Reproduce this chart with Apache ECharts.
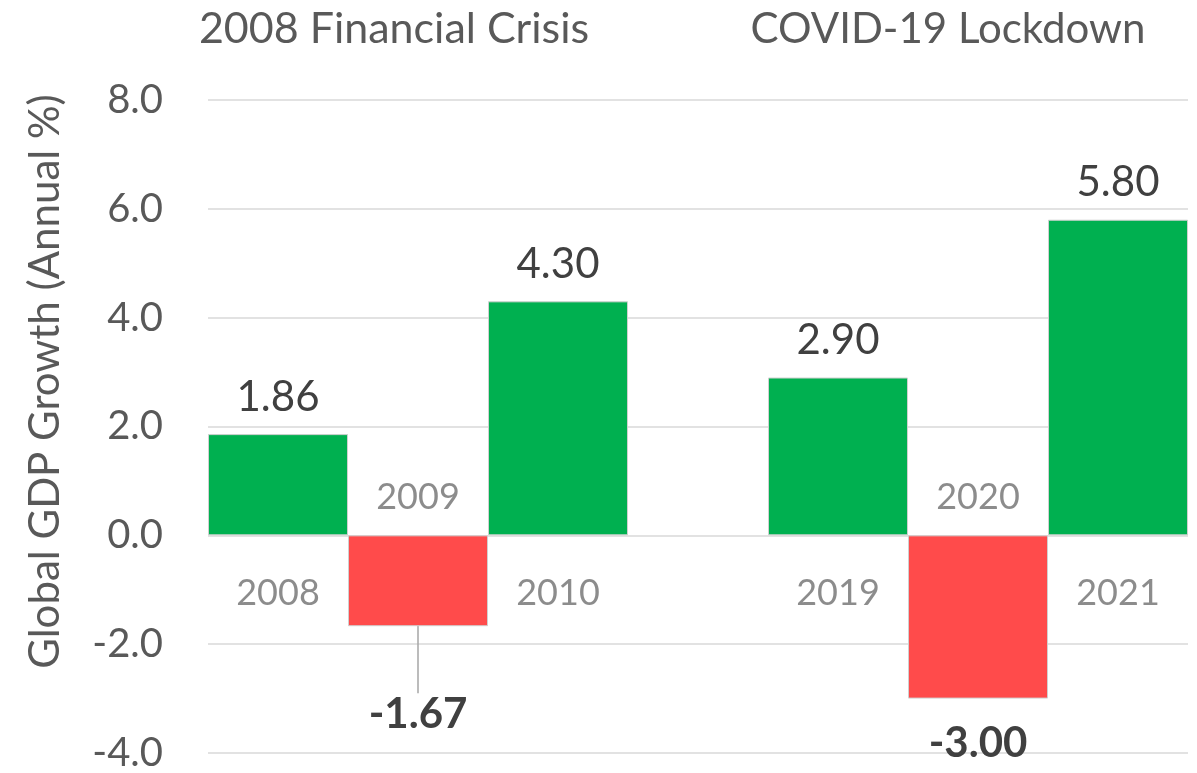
<!DOCTYPE html>
<html>
<head>
<meta charset="utf-8">
<script src="https://cdn.jsdelivr.net/npm/echarts@6/dist/echarts.min.js"></script>
<style>html,body{margin:0;padding:0;background:#fff;}#c{width:1197px;height:773px;}</style>
</head>
<body>
<div id="c"></div>
<script>
const categories = ['2008', '2009', '2010', '', '2019', '2020', '2021'];
const growth = [1.86, -1.67, 4.30, null, 2.90, -3.00, 5.80];
const yTicks = [-4, -2, 0, 2, 4, 6, 8];
const periodTitles = ['2008 Financial Crisis', 'COVID-19 Lockdown'];

const FONT = 'Lato';
const GREEN = '#00B050';
const RED = '#FF4B4B';

const chart = echarts.init(document.getElementById('c'), null, {renderer: 'canvas'});

const barData = growth.map((v, i) => {
  if (v === null) return null;
  const neg = v < 0;
  return {
    value: v,
    itemStyle: {color: neg ? RED : GREEN},
    label: neg ? {position: 'bottom', fontWeight: 'bold', distance: i === 1 ? 5 : 24} : {position: 'top', distance: 16},
    labelLine: {show: i === 1}
  };
});

const catLabelData = growth.map((v, i) => {
  if (v === null) return null;
  const neg = v < 0;
  return {
    value: [i, 0],
    label: neg ? {position: 'top', distance: 20} : {position: 'bottom', distance: 40}
  };
});

chart.setOption({
  animation: false,
  title: [
    {text: periodTitles[0], left: 389, top: 3, textAlign: 'center',
     textStyle: {fontFamily: FONT, fontSize: 43, fontWeight: 'normal', color: '#595959'}},
    {text: periodTitles[1], left: 943, top: 3, textAlign: 'center',
     textStyle: {fontFamily: FONT, fontSize: 42, fontWeight: 'normal', color: '#595959'}}
  ],
  grid: {left: 208, right: 9, top: 100, bottom: 15, containLabel: false},
  xAxis: {
    type: 'category',
    data: categories,
    axisLine: {show: false},
    axisTick: {show: false},
    axisLabel: {show: false},
    splitLine: {show: false}
  },
  yAxis: {
    type: 'value',
    min: yTicks[0],
    max: yTicks[yTicks.length - 1],
    interval: 2,
    name: 'Global GDP Growth (Annual %)',
    nameLocation: 'middle',
    nameRotate: 90,
    nameGap: 142,
    nameTextStyle: {fontFamily: FONT, fontSize: 42, color: '#595959', padding: [0, 0, 0, 90]},
    axisLine: {show: false},
    axisTick: {show: false},
    axisLabel: {
      fontFamily: FONT, fontSize: 40, color: '#595959', margin: 45,
      formatter: v => v.toFixed(1)
    },
    splitLine: {lineStyle: {color: '#D9D9D9', width: 1.5}}
  },
  series: [
    {
      type: 'bar',
      data: barData,
      barWidth: '100%',
      barCategoryGap: 0,
      itemStyle: {borderColor: '#D0D0D0', borderWidth: 1},
      label: {
        show: true,
        fontFamily: FONT,
        fontSize: 42,
        color: '#404040',
        formatter: p => p.value.toFixed(2)
      },
      labelLine: {show: false, lineStyle: {color: '#A6A6A6', width: 1.5}},
      labelLayout: p => (p.dataIndex === 1 ? {dy: 62} : {})
    },
    {
      type: 'scatter',
      data: catLabelData,
      symbolSize: 0,
      silent: true,
      label: {
        show: true,
        fontFamily: FONT,
        fontSize: 36,
        color: '#6F6F6F',
        formatter: p => categories[p.value[0]]
      },
      z: 5
    }
  ]
});
</script>
</body>
</html>
